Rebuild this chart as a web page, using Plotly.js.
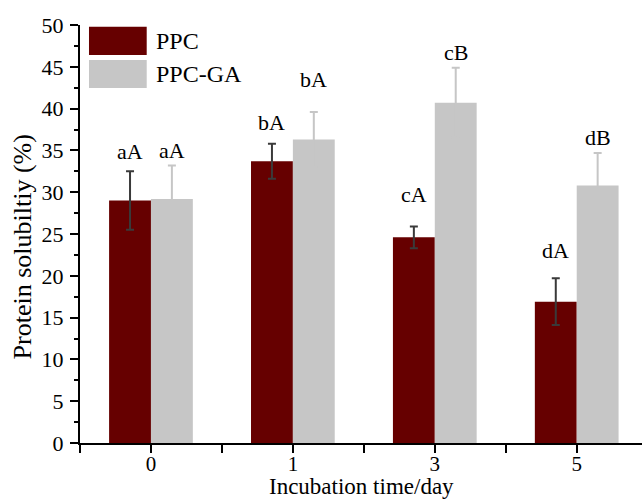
<!DOCTYPE html>
<html>
<head>
<meta charset="utf-8">
<script src="https://cdn.plot.ly/plotly-3.0.1.min.js"></script>
<style>
  html, body { margin: 0; padding: 0; background: #ffffff; }
  #chart { width: 643px; height: 500px; }
</style>
</head>
<body>
<div id="chart"></div>
<script>
// ---- data ----
var categories = ['0', '1', '3', '5'];           // incubation time (day)
var seriesNames = ['PPC', 'PPC-GA'];
var ppcValues = [29.0, 33.7, 24.6, 16.9];
var ppcErrors = [3.5, 2.1, 1.3, 2.8];
var gaValues  = [29.2, 36.3, 40.7, 30.8];
var gaErrors  = [4.0, 3.3, 4.2, 3.9];
var ppcLabels = ['aA', 'bA', 'cA', 'dA'];
var gaLabels  = ['aA', 'bA', 'cB', 'dB'];
var xTitle = 'Incubation time/day';
var yTitle = 'Protein solubiltiy (%)';

// ---- styles ----
var FONT = 'Liberation Serif';
var PPC_COLOR = '#660000';
var GA_COLOR = '#c6c6c6';
var BARGAP = 0.41;
var ppcLabelGap = [10, 12, 22, 18];
var gaLabelGap  = [5, 23, 6, 6];

var xpos = categories.map(function (c, i) { return i; });

var traces = [
  {
    type: 'bar', name: seriesNames[0], x: xpos, y: ppcValues,
    marker: { color: PPC_COLOR, line: { width: 0 } },
    error_y: { type: 'data', array: ppcErrors, visible: true, color: '#3a3a3a', thickness: 2, width: 4 },
    showlegend: false, hoverinfo: 'skip'
  },
  {
    type: 'bar', name: seriesNames[1], x: xpos, y: gaValues,
    marker: { color: GA_COLOR, line: { width: 0 } },
    error_y: { type: 'data', array: gaErrors, visible: true, color: GA_COLOR, thickness: 2, width: 4 },
    showlegend: false, hoverinfo: 'skip'
  }
];

var half = (1 - BARGAP) / 4;   // offset of each bar's centre from the category centre
var annotations = [];
xpos.forEach(function (x, i) {
  annotations.push({
    xref: 'x', yref: 'y', x: x - half, y: ppcValues[i] + ppcErrors[i],
    text: ppcLabels[i], showarrow: false, xanchor: 'center', yanchor: 'bottom',
    yshift: ppcLabelGap[i] - 5, font: { family: FONT, size: 22, color: '#000' }
  });
  annotations.push({
    xref: 'x', yref: 'y', x: x + half, y: gaValues[i] + gaErrors[i],
    text: gaLabels[i], showarrow: false, xanchor: 'center', yanchor: 'bottom',
    yshift: gaLabelGap[i] - 5, font: { family: FONT, size: 22, color: '#000' }
  });
});

// axis titles placed like the original
annotations.push({
  xref: 'paper', yref: 'paper', x: 0.5, y: 0, xanchor: 'center', yanchor: 'top',
  yshift: -29, text: xTitle, showarrow: false,
  font: { family: FONT, size: 23, color: '#000' }
});
annotations.push({
  xref: 'paper', yref: 'paper', x: 0, y: 0.468, xanchor: 'center', yanchor: 'middle',
  xshift: -58, textangle: -90, text: yTitle, showarrow: false,
  font: { family: FONT, size: 26, color: '#000' }
});

// custom legend (large swatches like the original)
var legendColors = [PPC_COLOR, GA_COLOR];
var legendRows = [[0.996, 0.928], [0.916, 0.849]];
var shapes = [];
seriesNames.forEach(function (n, k) {
  shapes.push({
    type: 'rect', xref: 'paper', yref: 'paper',
    x0: 0.016, x1: 0.1187, y0: legendRows[k][1], y1: legendRows[k][0],
    fillcolor: legendColors[k], line: { width: 0 }
  });
  annotations.push({
    xref: 'paper', yref: 'paper', x: 0.1317, y: (legendRows[k][0] + legendRows[k][1]) / 2,
    text: n, showarrow: false, xanchor: 'left', yanchor: 'middle',
    font: { family: FONT, size: 24, color: '#000' }
  });
});

var layout = {
  width: 643, height: 500,
  margin: { l: 80, r: 1, t: 25, b: 57, pad: 0 },
  paper_bgcolor: '#ffffff', plot_bgcolor: '#ffffff',
  barmode: 'group', bargap: BARGAP, bargroupgap: 0,
  showlegend: false,
  font: { family: FONT, size: 21, color: '#000' },
  xaxis: {
    range: [-0.5, 3.46],
    tickmode: 'array', tickvals: xpos, ticktext: categories,
    ticks: 'outside', ticklen: 8, tickwidth: 2, tickcolor: '#000',
    ticklabelstandoff: -7,
    minor: { tickmode: 'linear', tick0: -0.5, dtick: 1, ticks: 'outside', ticklen: 8, tickwidth: 2, tickcolor: '#000', showgrid: false },
    showline: true, linecolor: '#000', linewidth: 2,
    showgrid: false, zeroline: false,
    tickfont: { family: FONT, size: 21, color: '#000' }
  },
  yaxis: {
    range: [0, 50], tickmode: 'linear', tick0: 0, dtick: 5,
    ticks: 'outside', ticklen: 8, tickwidth: 2, tickcolor: '#000',
    ticklabelstandoff: 2,
    minor: { tickmode: 'linear', tick0: 0, dtick: 2.5, ticks: 'outside', ticklen: 4, tickwidth: 2, tickcolor: '#000', showgrid: false },
    showline: true, linecolor: '#000', linewidth: 2,
    showgrid: false, zeroline: false,
    tickfont: { family: FONT, size: 22, color: '#000' }
  },
  annotations: annotations,
  shapes: shapes
};

Plotly.newPlot('chart', traces, layout, { displayModeBar: false, staticPlot: true });
</script>
</body>
</html>
